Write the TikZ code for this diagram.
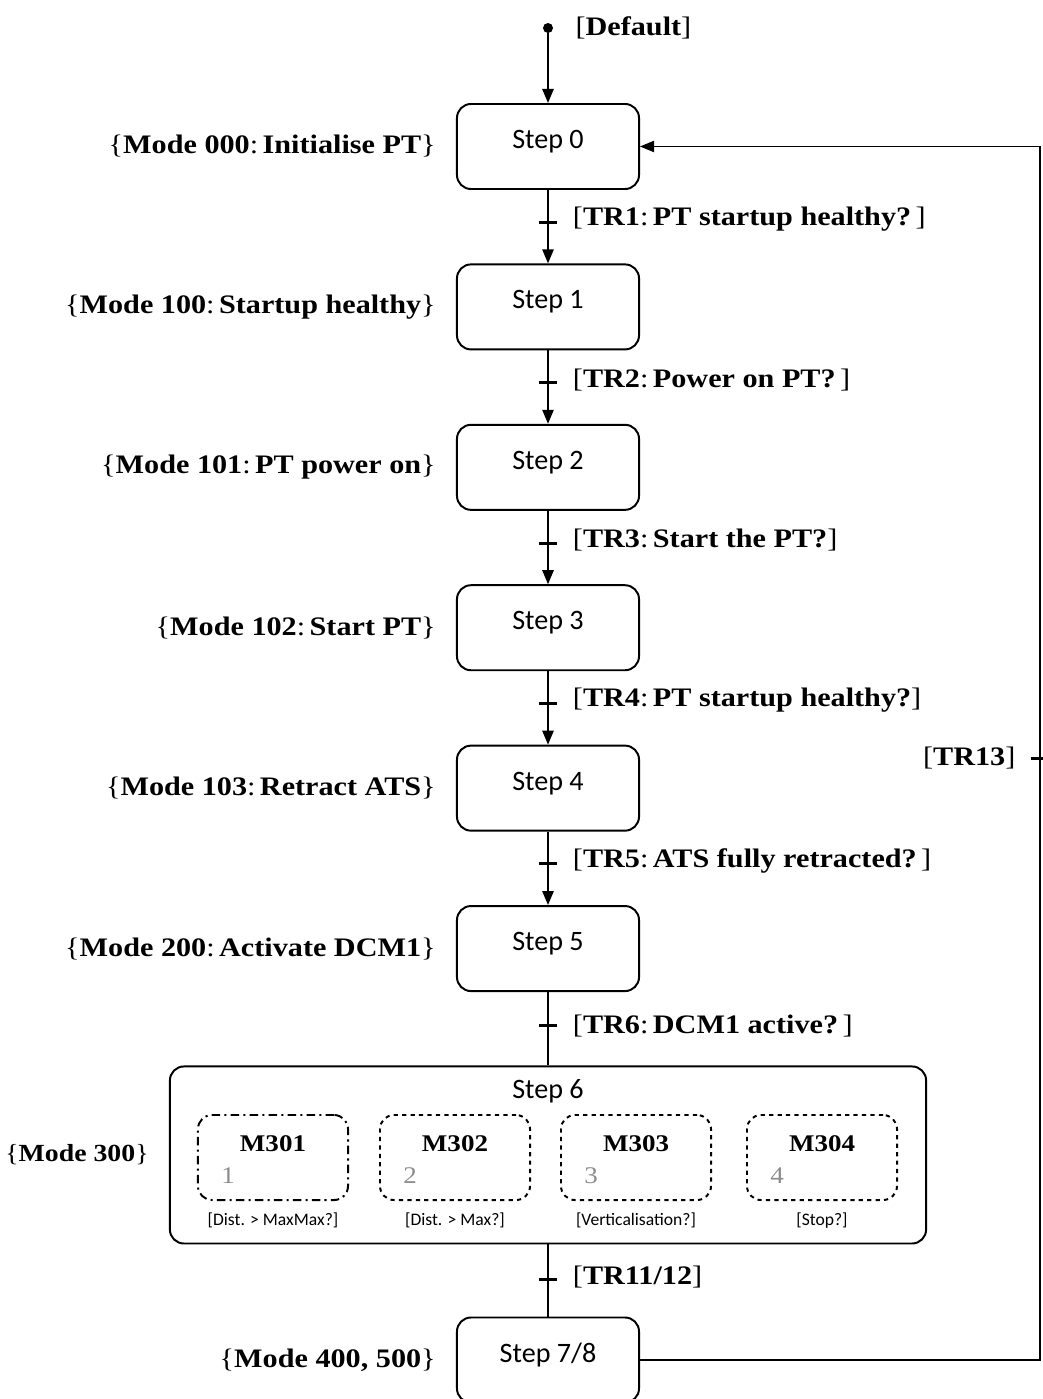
\documentclass[tikz,border=0pt]{standalone}
\usepackage{fontspec}
\setmainfont{Liberation Serif}[FakeStretch=1.13]
\newfontfamily\stepfont{Carlito}
\usetikzlibrary{arrows.meta,positioning,calc}
\newcommand{\trl}[2]{[\textbf{#1}:\,\textbf{#2}\,]}
\newcommand{\mdl}[2]{\{\textbf{#1}:\,\textbf{#2}\}}
\tikzset{
  stepbox/.style={draw, rounded corners=0.35cm, line width=1.4pt, minimum width=4.55cm,
                  minimum height=2.125cm, inner sep=0pt, text height=0.55cm, text depth=0.45cm,
                  font=\stepfont\fontsize{20}{24}\selectfont},
  subbox/.style={draw, rounded corners=0.35cm, line width=1.4pt, minimum width=3.75cm,
                 minimum height=2.125cm, inner sep=0pt, text height=0.45cm, text depth=0.75cm,
                 font=\bfseries\fontsize{17}{20}\selectfont},
  modelbl/.style={inner sep=0pt, font=\fontsize{19}{22}\selectfont},
  trlbl/.style={inner sep=0pt, font=\fontsize{19}{22}\selectfont},
  condlbl/.style={inner sep=0pt, font=\stepfont\fontsize{12.5}{14}\selectfont},
  numlbl/.style={inner sep=0pt, text=black!45, font=\fontsize{17}{20}\selectfont},
  bar/.style={fill, inner sep=0pt, minimum width=0.45cm, minimum height=0.075cm},
  flow/.style={-{Triangle[length=0.35cm, width=0.28cm]}, line width=1.4pt},
  link/.style={line width=1.4pt},
  back/.style={-{Triangle[length=0.35cm, width=0.28cm]}, line width=1pt},
}
\begin{document}
\begin{tikzpicture}[x=0.025cm, y=-0.025cm, node distance=1.835cm and 0.5cm]
  \useasboundingbox (0,0) rectangle (1042,1399);
  % start
  \node[circle, fill, inner sep=0pt, minimum size=0.25cm] (init) at (548,28) {};
  \node[trlbl, right=0.55cm of init] (dflt) {[\textbf{Default}]};
  % steps
  \node[stepbox] (s0) at (548,146.5) {Step 0};
  \node[stepbox, below=of s0] (s1) {Step 1};
  \node[stepbox, below=of s1] (s2) {Step 2};
  \node[stepbox, below=of s2] (s3) {Step 3};
  \node[stepbox, below=of s3] (s4) {Step 4};
  \node[stepbox, below=of s4] (s5) {Step 5};
  \node[stepbox, below=of s5, minimum width=18.9cm, minimum height=4.425cm,
        text height=0.5cm, text depth=3.3cm] (s6) {Step 6};
  \node[stepbox, below=1.8cm of s6] (s78) {Step 7/8};
  % modes
  \node[modelbl, left=of s0] (md0) {\mdl{Mode 000}{Initialise PT}};
  \node[modelbl, left=of s1] (md1) {\mdl{Mode 100}{Startup healthy}};
  \node[modelbl, left=of s2] (md2) {\mdl{Mode 101}{PT power on}};
  \node[modelbl, left=of s3] (md3) {\mdl{Mode 102}{Start PT}};
  \node[modelbl, left=of s4] (md4) {\mdl{Mode 103}{Retract ATS}};
  \node[modelbl, left=of s5] (md5) {\mdl{Mode 200}{Activate DCM1}};
  \node[modelbl, left=of s6, font=\fontsize{17.5}{20}\selectfont] (md6) {\{\textbf{Mode 300}\}};
  \node[modelbl, left=of s78] (md78) {\{\textbf{Mode 400, 500}\}};
  % sub modes of step 6
  \node[subbox, dash pattern=on 6pt off 3pt on 1.5pt off 3pt] (m1) at (273,1157.5) {M301};
  \node[subbox, dashed] (m2) at (455,1157.5) {M302};
  \node[subbox, dashed] (m3) at (636,1157.5) {M303};
  \node[subbox, dashed] (m4) at (822,1157.5) {M304};
  \foreach \i in {1,...,4}
    \node[numlbl] (n\i) at ($(m\i.center)+(-45,18)$) {\i};
  \node[condlbl, below=0.3cm of m1] (c1) {[Dist. > MaxMax?]};
  \node[condlbl, below=0.3cm of m2] (c2) {[Dist. > Max?]};
  \node[condlbl, below=0.3cm of m3] (c3) {[Verticalisation?]};
  \node[condlbl, below=0.3cm of m4] (c4) {[Stop?]};
  % transitions
  \draw[flow] (init) -- (s0);
  \draw[flow] (s0) -- node[bar, pos=0.44] (b1) {} node[trlbl, pos=0.4, right=0.6cm] (tr1) {\trl{TR1}{PT startup healthy?}} (s1);
  \draw[flow] (s1) -- node[bar, pos=0.44] (b2) {} node[trlbl, pos=0.4, right=0.6cm] (tr2) {\trl{TR2}{Power on PT?}} (s2);
  \draw[flow] (s2) -- node[bar, pos=0.44] (b3) {} node[trlbl, pos=0.4, right=0.6cm] (tr3) {[\textbf{TR3}:\,\textbf{Start the PT?}]} (s3);
  \draw[flow] (s3) -- node[bar, pos=0.44] (b4) {} node[trlbl, pos=0.4, right=0.6cm] (tr4) {[\textbf{TR4}:\,\textbf{PT startup healthy?}]} (s4);
  \draw[flow] (s4) -- node[bar, pos=0.44] (b5) {} node[trlbl, pos=0.4, right=0.6cm] (tr5) {\trl{TR5}{ATS fully retracted?}} (s5);
  \draw[link] (s5) -- node[bar, pos=0.46] (b6) {} node[trlbl, pos=0.46, right=0.6cm] (tr6) {\trl{TR6}{DCM1 active?}} (s6);
  \draw[link] (s6) -- node[bar, pos=0.48] (b11) {} node[trlbl, pos=0.45, right=0.6cm] (tr11) {[\textbf{TR11/12}]} (s78);
  % back to step 0
  \coordinate (rx) at (1040,0);
  \draw[back] (s78.east) -- (s78.east -| rx) -- node[bar, pos=0.496] (b13) {}
    node[trlbl, pos=0.496, left=0.6cm] (tr13) {[\textbf{TR13}]} (s0.east -| rx) -- (s0.east);
\end{tikzpicture}
\end{document}
